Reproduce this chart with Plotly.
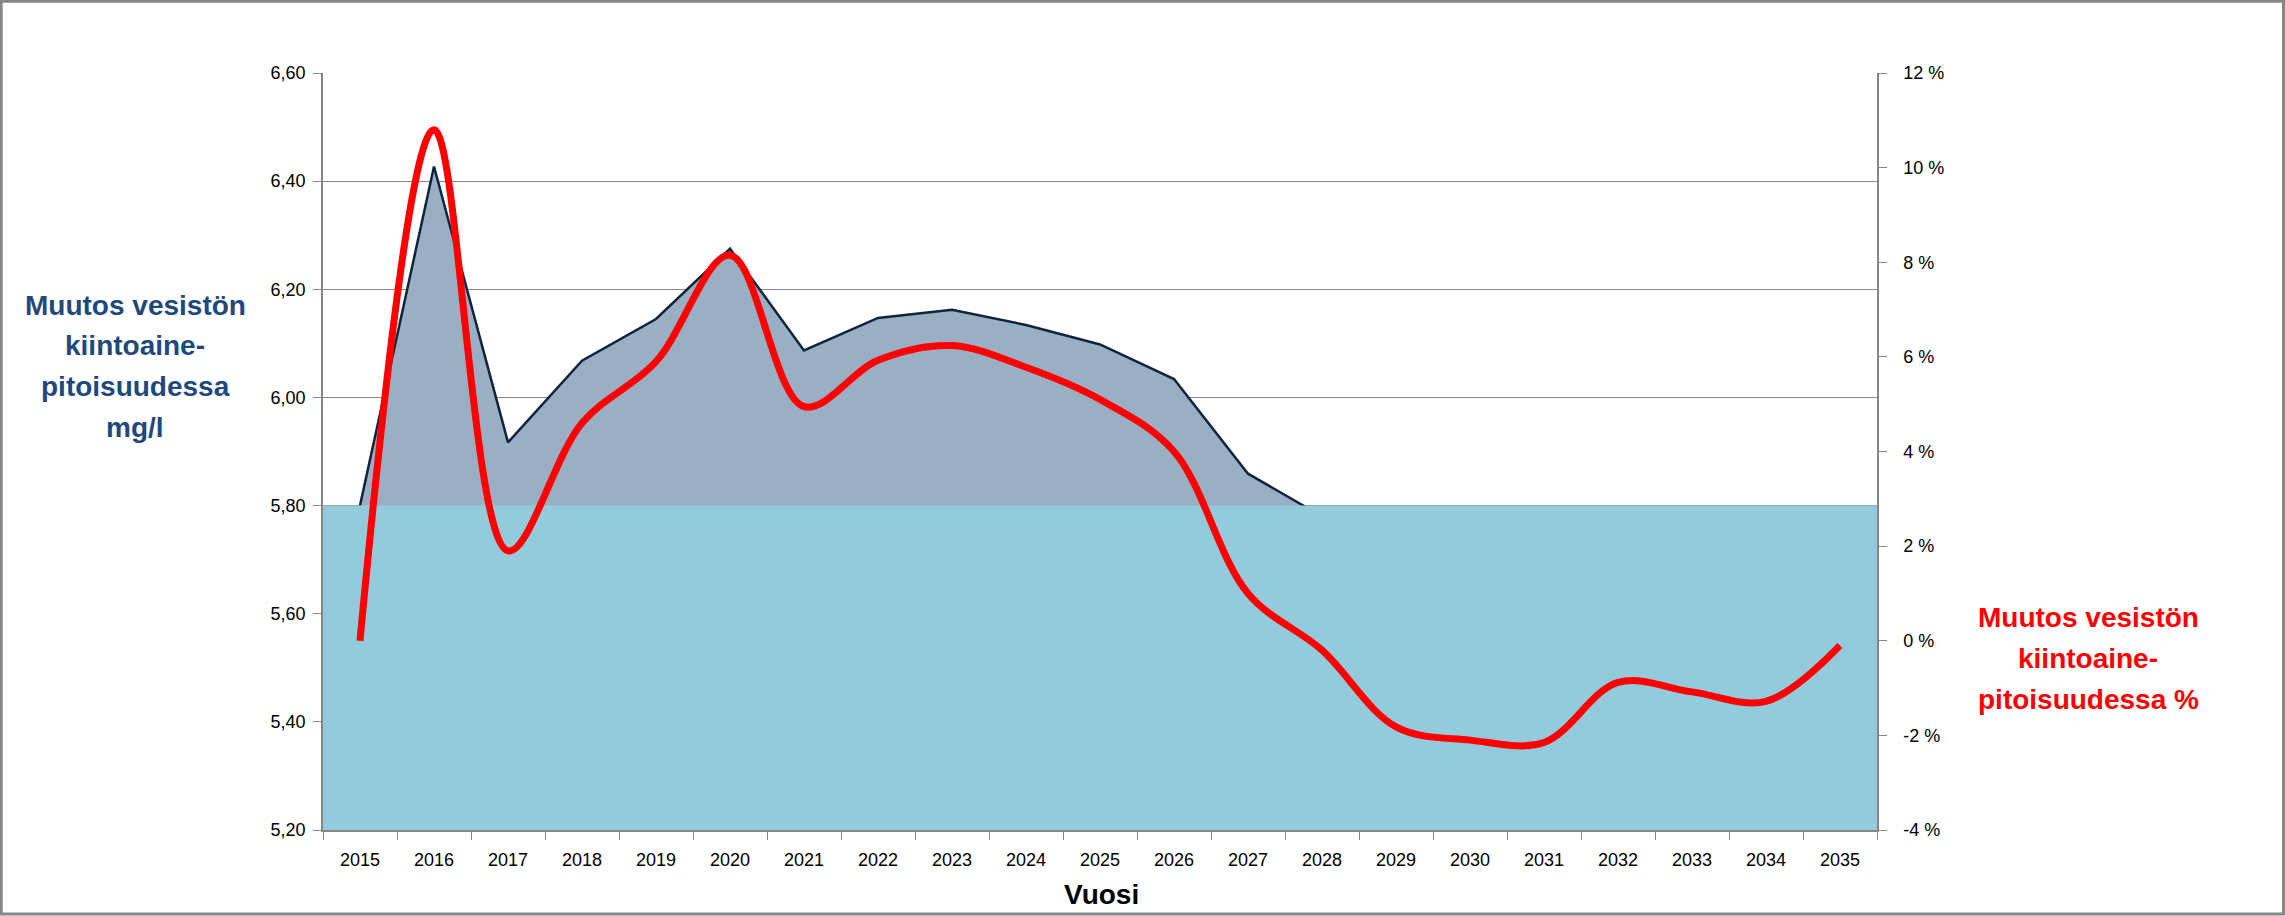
import plotly.graph_objects as go

years = [str(y) for y in range(2015, 2036)]
# mg/l (left axis), visible part of the shaded area series
area_years = years[:14]
area_vals = [5.80, 6.427, 5.917, 6.068, 6.145, 6.275, 6.087, 6.147, 6.162, 6.134, 6.098, 6.034, 5.859, 5.78]
# reference level band (mg/l)
band_level = 5.80
# % change (right axis)
pct_vals = [0.0, 10.8, 1.9, 4.6, 5.9, 8.15, 4.95, 5.93, 6.24, 5.78, 5.1, 4.0, 1.0, -0.2,
            -1.82, -2.1, -2.15, -0.88, -1.08, -1.28, -0.1]

left_ticks = [5.2, 5.4, 5.6, 5.8, 6.0, 6.2, 6.4, 6.6]
left_ticktext = ["5,20", "5,40", "5,60", "5,80", "6,00", "6,20", "6,40", "6,60"]
right_ticks = [-4, -2, 0, 2, 4, 6, 8, 10, 12]
right_ticktext = ["-4 %", "-2 %", "0 %", "2 %", "4 %", "6 %", "8 %", "10 %", "12 %"]

W, H = 2285, 916
ML, MR, MT, MB = 323, 408, 73, 86
PW, PH = W - ML - MR, H - MT - MB

def px(xp):
    return (xp - ML) / PW

def py(yp):
    return (H - MB - yp) / PH

idx = list(range(len(years)))
FONT = "Liberation Sans, Arial, sans-serif"
GRAY = "#868686"

fig = go.Figure()
fig.add_trace(go.Scatter(
    x=idx[:len(area_vals)], y=area_vals, mode="lines", fill="tozeroy",
    fillcolor="#9BAFC4", line=dict(color="#0F243E", width=2.5),
    hoverinfo="skip", showlegend=False))
fig.add_trace(go.Scatter(
    x=[-0.5, len(years) - 0.5], y=[band_level, band_level], mode="lines",
    fill="tozeroy", fillcolor="#93CBDC", line=dict(color="#93CBDC", width=0),
    hoverinfo="skip", showlegend=False))
fig.add_trace(go.Scatter(
    x=idx, y=pct_vals, mode="lines", yaxis="y2",
    line=dict(color="#FF0000", width=7, shape="spline", smoothing=1.0),
    hoverinfo="skip", showlegend=False))

fig.update_layout(
    width=W, height=H,
    margin=dict(l=ML, r=MR, t=MT, b=MB),
    paper_bgcolor="white", plot_bgcolor="white",
    font=dict(family=FONT, size=18, color="black"),
    xaxis=dict(
        range=[-0.5, len(years) - 0.5], tickmode="array", tickvals=idx, ticktext=years,
        ticks="", showgrid=False, showline=True, linecolor=GRAY, linewidth=1.5,
        zeroline=False, tickfont=dict(size=18), ticklabelstandoff=13,
        minor=dict(tickmode="linear", tick0=-0.5, dtick=1, ticks="outside",
                   ticklen=8, tickcolor=GRAY, tickwidth=1, showgrid=False),
    ),
    yaxis=dict(
        range=[5.2, 6.6], tickmode="array", tickvals=left_ticks, ticktext=left_ticktext,
        ticks="outside", ticklen=8, tickcolor=GRAY, showgrid=True, gridcolor=GRAY,
        gridwidth=1, showline=True, linecolor=GRAY, linewidth=1.5, zeroline=False,
        tickfont=dict(size=18), ticklabelstandoff=4,
    ),
    yaxis2=dict(
        range=[-4, 12], overlaying="y", side="right", tickmode="array",
        tickvals=right_ticks, ticktext=right_ticktext, ticks="outside", ticklen=8,
        tickcolor=GRAY, showgrid=False, showline=True, linecolor=GRAY, linewidth=1.5,
        zeroline=False, tickfont=dict(size=18), ticklabelstandoff=13,
    ),
)

annotations = []
left_lines = ["Muutos vesistön", "kiintoaine-", "pitoisuudessa", "mg/l"]
left_y = [305, 346, 387, 427]
for t, yy in zip(left_lines, left_y):
    annotations.append(dict(text=t, x=px(135), y=py(yy), xref="paper", yref="paper",
                            xanchor="center", yanchor="middle", showarrow=False,
                            font=dict(family=FONT, size=28, color="#1F497D", weight="bold")))
right_lines = ["Muutos vesistön", "kiintoaine-", "pitoisuudessa %"]
right_y = [617, 658, 699]
for t, yy in zip(right_lines, right_y):
    annotations.append(dict(text=t, x=px(2088), y=py(yy), xref="paper", yref="paper",
                            xanchor="center", yanchor="middle", showarrow=False,
                            font=dict(family=FONT, size=28, color="#FF0000", weight="bold")))
annotations.append(dict(text="Vuosi", x=px(1101), y=py(894), xref="paper", yref="paper",
                        xanchor="center", yanchor="middle", showarrow=False,
                        font=dict(family=FONT, size=28, color="black", weight="bold")))
fig.update_layout(annotations=annotations)

fig.add_shape(type="rect", xref="paper", yref="paper",
              x0=px(1.2), x1=px(W - 1.5), y0=py(1.2), y1=py(H - 2),
              line=dict(color="#878787", width=3), fillcolor="rgba(0,0,0,0)", layer="above")

fig.write_html(
    "out.html",
    config={"displayModeBar": False},
    post_script="document.body.style.margin='0';document.body.style.padding='0';"
                "document.body.style.overflow='hidden';",
)
